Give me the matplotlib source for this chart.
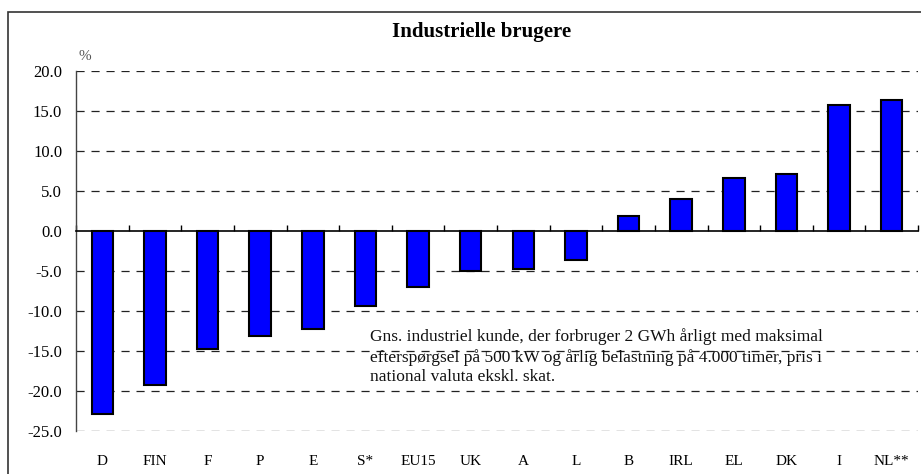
import matplotlib
matplotlib.use("Agg")
import matplotlib.pyplot as plt
import numpy as np
from matplotlib.patches import Rectangle

# values
countries = ["D", "FIN", "F", "P", "E", "S*", "EU15", "UK", "A", "L",
             "B", "IRL", "EL", "DK", "I", "NL**"]
change = [-22.9, -19.3, -14.7, -13.1, -12.2, -9.4, -7.0, -5.0, -4.8, -3.6,
          1.9, 4.0, 6.6, 7.1, 15.7, 16.4]
y_ticks = [20, 15, 10, 5, 0, -5, -10, -15, -20, -25]

title = "Industrielle brugere"
note = ("Gns. industriel kunde, der forbruger 2 GWh årligt med maksimal\n"
        "efterspørgsel på 500 kW og årlig belastning på 4.000 timer, pris i\n"
        "national valuta ekskl. skat.")

plt.rcParams["font.family"] = ["Liberation Serif", "DejaVu Serif"]

fig = plt.figure(figsize=(9.21, 4.74), dpi=100)
ax = fig.add_axes([76 / 921, 1 - 431 / 474, 842 / 921, 360 / 474])

# outer frame (left and top edge visible, rest runs off the picture)
fig.patches.append(Rectangle((8 / 921, -0.1), 1.2, 1 - 12 / 474 + 0.1,
                             transform=fig.transFigure, fill=False,
                             edgecolor="#333333", linewidth=1.2))

x = np.arange(len(countries))
ax.bar(x, change, width=0.41, color="#0000ff", edgecolor="black",
       linewidth=1.5, zorder=3)

ax.set_xlim(-0.5, len(countries) - 0.5)
ax.set_ylim(-25, 20)

# dashed gridlines, solid zero line
for v in y_ticks:
    if v != 0:
        ax.axhline(v, color="#222222", linewidth=0.9,
                   linestyle=(0, (6.5, 5.5)), zorder=1)

ax.spines["top"].set_visible(False)
ax.spines["right"].set_visible(False)
ax.spines["bottom"].set_position(("data", 0))
ax.spines["bottom"].set_linewidth(1.2)
ax.spines["left"].set_linewidth(1.0)
ax.spines["left"].set_color("#444444")

ax.set_yticks(y_ticks)
ax.set_yticklabels(["%.1f" % v for v in y_ticks], fontsize=12)
ax.tick_params(axis="y", length=0, pad=10)

ax.set_xticks(np.arange(len(countries) + 1) - 0.5)
ax.set_xticklabels([])
ax.tick_params(axis="x", direction="in", length=4, width=1)

sec = ax.secondary_xaxis("bottom")
sec.set_xticks(x)
sec.set_xticklabels(countries, fontsize=11)
sec.tick_params(length=0, pad=17)
sec.spines["bottom"].set_visible(False)

fig.text(482 / 921, 1 - 32 / 474, title, ha="center", va="center",
         fontsize=15, fontweight="bold")
fig.text(85 / 921, 1 - 57 / 474, "%", ha="center", va="center",
         fontsize=11, color="#555555")

ax.text(5.09, -12.2, note, ha="left", va="top", fontsize=12.5,
        linespacing=1.27, color="#111111", zorder=4)

fig.savefig("out.png", dpi=100)
